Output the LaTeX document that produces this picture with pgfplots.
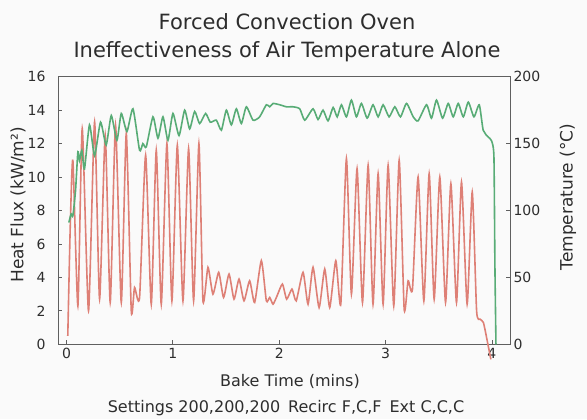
\documentclass[border=0pt]{standalone}
\usepackage{fontspec}
\setmainfont{DejaVu Sans}
\usepackage{pgfplots}
\pgfplotsset{compat=1.18}

\definecolor{flux}{RGB}{222,128,118}
\definecolor{temp}{RGB}{88,172,118}
\definecolor{frame}{RGB}{95,95,95}
\definecolor{txt}{RGB}{45,45,45}

\pgfplotsset{
  ovenbox/.style={
    at={(58pt,74.7pt)}, anchor=south west,
    scale only axis, width=452pt, height=267.6pt,
    xmin=-0.08, xmax=4.17,
    axis line style={frame, line width=0.9pt},
    tick style={frame, line width=0.8pt},
    ticklabel style={font=\fontsize{14}{14}\selectfont, text=txt},
    /pgf/number format/assume math mode=true,
    clip=false,
  },
}

\begin{document}
\begin{tikzpicture}
\path[fill=white!98!black] (0,0) rectangle (587pt,419pt);

% heat flux, left axis
\begin{axis}[ovenbox,
    ymin=0, ymax=16,
    xtick={0,1,2,3,4}, ytick={0,2,...,16},
    ytick pos=left, xtick pos=bottom,
    yticklabel style={xshift=-9pt},
]
\addplot[flux, line width=1.6pt, smooth, tension=0.35] coordinates {
(0.012,0.5)(0.035,7.0)(0.060,11.0)(0.107,2.3)(0.148,12.9)(0.207,2.0)
(0.264,13.3)(0.311,2.7)(0.364,12.5)(0.411,2.5)(0.461,13.1)(0.515,2.5)
(0.562,12.6)(0.609,2.0)(0.640,3.4)(0.687,2.8)(0.744,11.3)(0.797,2.4)
(0.844,11.6)(0.891,2.4)(0.944,12.0)(0.991,2.6)(1.042,11.9)(1.095,2.6)
(1.148,11.7)(1.195,2.6)(1.245,12.0)(1.283,2.6)(1.330,4.6)(1.377,3.0)
(1.431,4.3)(1.477,2.8)(1.528,4.2)(1.575,2.7)(1.622,3.9)(1.669,2.6)
(1.722,3.8)(1.769,2.5)(1.832,5.0)(1.879,2.6)(1.911,2.8)(1.942,2.4)
(1.980,2.9)(2.030,3.6)(2.070,2.7)(2.120,3.3)(2.160,2.6)(2.224,4.3)
(2.271,2.4)(2.318,4.6)(2.375,2.2)(2.428,4.5)(2.475,2.2)(2.532,5.0)
(2.579,2.4)(2.632,11.1)(2.679,3.0)(2.732,10.5)(2.783,2.5)(2.836,10.7)
(2.882,2.4)(2.930,10.2)(2.977,2.4)(3.024,10.7)(3.077,2.3)(3.128,11.0)
(3.175,2.1)(3.212,3.8)(3.253,3.3)(3.306,10.0)(3.360,2.6)(3.410,10.2)
(3.457,2.7)(3.510,10.0)(3.564,2.5)(3.614,9.6)(3.667,2.5)(3.714,9.7)
(3.767,2.4)(3.815,9.1)(3.856,2.0)(3.890,1.5)(3.920,1.3)(3.950,0.4)
(3.990,-0.9)
};
\end{axis}

% air temperature, right axis
\begin{axis}[ovenbox,
    ymin=0, ymax=200,
    axis x line=none, axis y line*=right,
    ytick={0,50,...,200},
]
\addplot[temp, line width=1.6pt, smooth, tension=0.35] coordinates {
(0.022,91)(0.044,97.5)(0.060,96)(0.085,115)(0.107,144)(0.122,137.5)
(0.144,145)(0.169,131)(0.216,164)(0.264,141)(0.320,166)(0.373,149)
(0.421,171)(0.474,152.5)(0.515,172.5)(0.568,159)(0.625,176)(0.687,145)
(0.718,150)(0.750,147.5)(0.813,170)(0.860,154)(0.907,170)(0.954,152.5)
(1.001,172.5)(1.058,156)(1.111,175)(1.158,161)(1.205,174)(1.252,165)
(1.308,172.5)(1.352,166)(1.409,167.5)(1.456,160)(1.503,175)(1.550,164)
(1.597,176)(1.644,165)(1.691,177.5)(1.754,167.5)(1.816,170)(1.879,179)
(1.911,177.5)(1.942,180)(2.005,179)(2.068,177.5)(2.130,177.5)(2.193,176)
(2.240,167.5)(2.318,176)(2.365,168)(2.412,175)(2.459,167)(2.507,177)
(2.545,170)(2.585,179)(2.632,170)(2.679,182.5)(2.726,170)(2.773,180)
(2.827,169)(2.882,179)(2.930,170)(2.977,179)(3.033,170)(3.087,177.5)
(3.140,170)(3.197,180)(3.260,170)(3.306,167)(3.385,179)(3.432,169)
(3.479,182.5)(3.536,169)(3.589,180)(3.636,170)(3.683,180)(3.731,170)
(3.778,181)(3.831,170)(3.881,179)(3.918,160)(3.965,155)(3.997,152)
(4.019,140)(4.028,60)(4.038,0)
};
\end{axis}

% titles and axis names
\node[anchor=base, text=txt, font=\fontsize{21}{21}\selectfont] at (287pt,389pt) {Forced Convection Oven};
\node[anchor=base, text=txt, font=\fontsize{21}{21}\selectfont] at (287pt,361pt) {Ineffectiveness of Air Temperature Alone};
\node[text=txt, font=\fontsize{16}{16}\selectfont] at (290pt,38pt) {Bake Time (mins)};
\node[text=txt, font=\fontsize{16}{16}\selectfont] at (286pt,11pt) {Settings 200,200,200\enspace Recirc F,C,F\enspace Ext C,C,C};
\node[rotate=90, text=txt, font=\fontsize{17}{17}\selectfont] at (18pt,214pt) {Heat Flux (kW/m²)};
\node[rotate=90, text=txt, font=\fontsize{17}{17}\selectfont] at (568pt,222pt) {Temperature (°C)};
\end{tikzpicture}
\end{document}
